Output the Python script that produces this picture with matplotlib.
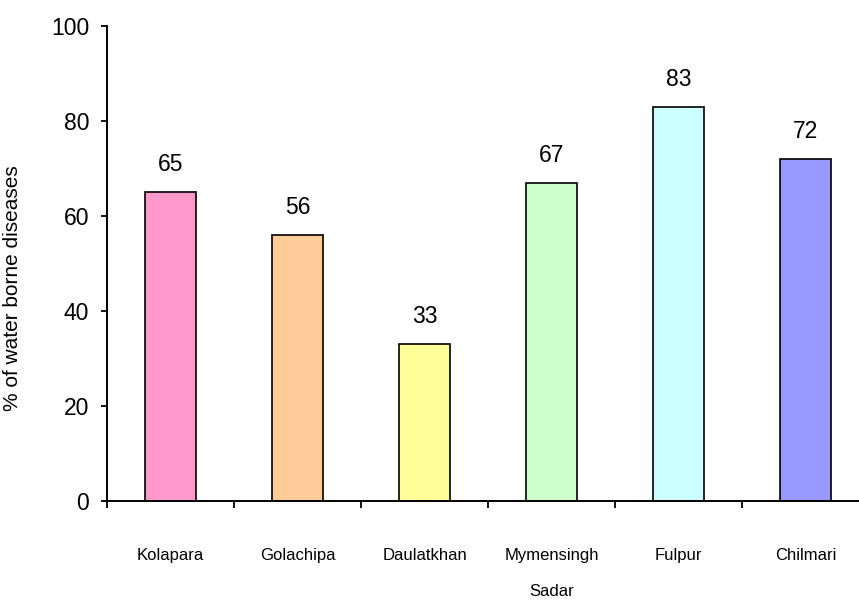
import matplotlib
matplotlib.use("Agg")
import matplotlib.pyplot as plt
import numpy as np

plt.rcParams['font.family'] = ['Liberation Sans', 'DejaVu Sans']

# Share of water borne diseases by upazila
locations = ["Kolapara", "Golachipa", "Daulatkhan", "Mymensingh\nSadar", "Fulpur", "Chilmari"]
percent = [65, 56, 33, 67, 83, 72]
bar_colors = ["#FF99CC", "#FFCC99", "#FFFF99", "#CCFFCC", "#CCFFFF", "#9999FF"]
y_ticks = [0, 20, 40, 60, 80, 100]

fig = plt.figure(figsize=(8.59, 6.0), dpi=100)
ax = fig.add_axes([107 / 859, 1 - 501 / 600, 762 / 859, 475 / 600])

x = np.arange(len(locations))
bars = ax.bar(x, percent, width=0.4, color=bar_colors, edgecolor="black", linewidth=1.2)

for xi, v in zip(x, percent):
    ax.annotate(str(v), (xi, v), xytext=(0, 11.5), textcoords="offset points",
                ha="center", va="bottom", fontsize=16.5)

ax.set_xlim(-0.5, len(locations) - 0.5)
ax.set_ylim(0, 100)
ax.set_yticks(y_ticks)
ax.tick_params(axis="y", direction="out", length=4.3, width=1.3, pad=8.5, labelsize=16.5)

# category labels centred under bars, ticks at category boundaries
ax.set_xticks(x)
ax.set_xticklabels(locations, fontsize=12, linespacing=2.75, va="top")
ax.tick_params(axis="x", which="major", length=0, pad=34)
ax.set_xticks(np.arange(len(locations) + 1) - 0.5, minor=True)
ax.tick_params(axis="x", which="minor", direction="out", length=5, width=1.3)

for side in ("top", "right"):
    ax.spines[side].set_visible(False)
for side in ("left", "bottom"):
    ax.spines[side].set_linewidth(1.4)

ax.set_ylabel("% of water borne diseases", fontsize=15)
ax.yaxis.set_label_coords(-0.1115, 0.448)

fig.savefig("out.png", dpi=100)
